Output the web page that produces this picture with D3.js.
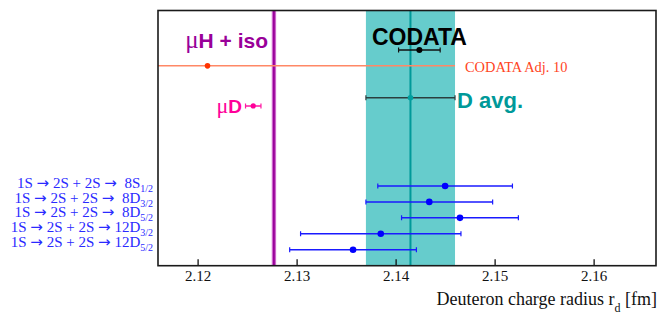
<!DOCTYPE html>
<html>
<head>
<meta charset="utf-8">
<script src="https://cdn.jsdelivr.net/npm/d3@7"></script>
<style>
  body { margin: 0; background: #fff; }
  svg { display: block; }
</style>
</head>
<body>
<svg id="chart" width="660" height="314"></svg>
<script>
(function(){

	// deuteron radius determinations [fm]
	const lineNames = ["8S", "8D", "8D", "12D", "12D"];
	const lineSubs = ["1/2", "3/2", "5/2", "3/2", "5/2"];
	const lineValues = [2.1450, 2.1434, 2.1465, 2.1385, 2.1357];
	const lineErrors = [0.0068, 0.0064, 0.0059, 0.0081, 0.0064];
	const lineRows = [11, 12, 13, 14, 15];

	const codata = [2.1424, 0.0021];
	const codataAdj = [2.1210, 0.0250];
	const dAvg = [2.1415, 0.0045];
	const muHiso = [2.12771, 0.00022];
	const muD = [2.12562, 0.00078];

	const majorTicks = [2.12, 2.13, 2.14, 2.15, 2.16];
	const minorTicks = d3.range(2.116, 2.1665, 0.002);

	const svg = d3.select("#chart");
	const left = 158, right = 656, top = 10.5, bottom = 265.7;

	const x = d3.scaleLinear().domain([2.116, 2.1663]).range([left, right]);
	const y = d3.scaleLinear().domain([0, 16]).range([top, bottom]);

	svg.append("clipPath").attr("id", "plotClip")
		.append("rect")
		.attr("x", left).attr("y", top)
		.attr("width", right - left).attr("height", bottom - top);

	const plot = svg.append("g").attr("clip-path", "url(#plotClip)");

	// D average band
	plot.append("rect")
		.attr("x", x(dAvg[0] - dAvg[1]))
		.attr("width", x(dAvg[0] + dAvg[1]) - x(dAvg[0] - dAvg[1]))
		.attr("y", top).attr("height", bottom - top)
		.attr("fill", "#66cccc");
	plot.append("line")
		.attr("x1", x(dAvg[0])).attr("x2", x(dAvg[0]))
		.attr("y1", top).attr("y2", bottom)
		.attr("stroke", "#009999").attr("stroke-width", 2);

	// muH + iso band
	plot.append("rect")
		.attr("x", x(muHiso[0] - muHiso[1]))
		.attr("width", x(muHiso[0] + muHiso[1]) - x(muHiso[0] - muHiso[1]))
		.attr("y", top).attr("height", bottom - top)
		.attr("fill", "#cc66cc");
	plot.append("line")
		.attr("x1", x(muHiso[0])).attr("x2", x(muHiso[0]))
		.attr("y1", top).attr("y2", bottom)
		.attr("stroke", "#990099").attr("stroke-width", 1.8);

	function errorBar(g, val, err, row, lineColor, dotColor, r, caps) {
		const yy = y(row);
		g.append("line")
			.attr("x1", x(val - err)).attr("x2", x(val + err))
			.attr("y1", yy).attr("y2", yy)
			.attr("stroke", lineColor).attr("stroke-width", 1.5);
		if (caps) {
			[val - err, val + err].forEach(function(v) {
				g.append("line")
					.attr("x1", x(v)).attr("x2", x(v))
					.attr("y1", yy - 2.5).attr("y2", yy + 2.5)
					.attr("stroke", lineColor).attr("stroke-width", 1.2);
			});
		}
		g.append("circle")
			.attr("cx", x(val)).attr("cy", yy).attr("r", r)
			.attr("fill", dotColor);
	}

	errorBar(plot, codataAdj[0], codataAdj[1], 3.47, "#ff8866", "#ff3300", 2.8, false);
	errorBar(plot, codata[0], codata[1], 2.48, "#111", "#000", 3, true);
	errorBar(plot, dAvg[0], dAvg[1], 5.47, "#2a3f3f", "#00a0a0", 2.8, true);
	errorBar(plot, muD[0], muD[1], 5.98, "#ff1aa3", "#ff0099", 2.6, true);

	lineValues.forEach(function(v, i) {
		errorBar(plot, v, lineErrors[i], lineRows[i], "#1a1aff", "#0000ff", 3.3, true);
	});

	// axis ticks (inside)
	const ax = svg.append("g").attr("transform", "translate(0," + bottom + ")");
	ax.call(d3.axisBottom(x).tickValues(minorTicks).tickSize(-3).tickFormat(""));
	ax.call(d3.axisBottom(x).tickValues(majorTicks).tickSize(-6.5).tickFormat(d3.format(".2f")));
	ax.selectAll(".domain").remove();
	ax.selectAll("line").attr("stroke", "#111").attr("stroke-width", 1.3);
	ax.selectAll("text")
		.attr("y", 15.8).attr("dy", 0)
		.attr("fill", "#111")
		.style("font-family", "'Liberation Serif', 'Times New Roman', serif")
		.style("font-size", "15px");

	// frame
	svg.append("rect")
		.attr("x", left).attr("y", top)
		.attr("width", right - left).attr("height", bottom - top)
		.attr("fill", "none").attr("stroke", "#1a1a1a").attr("stroke-width", 1.6);

	const sans = "'Liberation Sans', Arial, sans-serif";
	const serif = "'Liberation Serif', 'Times New Roman', serif";

	// labels
	svg.append("text").attr("x", x(codata[0])).attr("y", 45)
		.attr("text-anchor", "middle")
		.style("font-family", sans).style("font-weight", "bold").style("font-size", "23px")
		.attr("fill", "#000").text("CODATA");

	svg.append("text").attr("x", 457).attr("y", 108)
		.style("font-family", sans).style("font-weight", "bold").style("font-size", "22px")
		.attr("fill", "#009999").text("D avg.");

	svg.append("text").attr("x", 465).attr("y", 71.7)
		.style("font-family", serif).style("font-size", "14.4px")
		.attr("fill", "#ff4422").text("CODATA Adj. 10");

	const muHText = svg.append("text").attr("x", 268).attr("y", 48.3)
		.attr("text-anchor", "end")
		.style("font-size", "21px").attr("fill", "#990099");
	muHText.append("tspan").style("font-family", serif).style("font-size", "25px").text("μ");
	muHText.append("tspan").style("font-family", sans).style("font-weight", "bold").text("H + iso");

	const muDText = svg.append("text").attr("x", 242).attr("y", 112.7)
		.attr("text-anchor", "end")
		.style("font-size", "19px").attr("fill", "#ff0099");
	muDText.append("tspan").style("font-family", serif).style("font-size", "22px").text("μ");
	muDText.append("tspan").style("font-family", sans).style("font-weight", "bold").text("D");

	// transition labels
	const labelBase = [188, 202.5, 217, 232, 247];
	const arrowFont = "'DejaVu Sans', sans-serif";
	const sp = "\u00a0";
	lineNames.forEach(function(n, i) {
		const t = svg.append("text").attr("x", 153).attr("y", labelBase[i])
			.attr("text-anchor", "end")
			.style("font-family", serif).style("font-size", "15px")
			.attr("fill", "#2a2aff");
		t.append("tspan").text("1S" + sp);
		t.append("tspan").style("font-family", arrowFont).style("font-size", "15px").text("\u2192");
		t.append("tspan").text(sp + "2S + 2S" + sp);
		t.append("tspan").style("font-family", arrowFont).style("font-size", "15px").text("\u2192");
		t.append("tspan").text((n.length < 3 ? sp + sp : sp) + n);
		t.append("tspan").attr("dy", 4).style("font-size", "10px").text(lineSubs[i]);
	});

	// axis title
	const title = svg.append("text").attr("x", 657).attr("y", 305)
		.attr("text-anchor", "end")
		.style("font-family", serif).style("font-size", "18px").attr("fill", "#111");
	title.append("tspan").text("Deuteron charge radius r");
	title.append("tspan").attr("dy", 7).style("font-size", "12px").text("d");
	title.append("tspan").attr("dy", -7).text(" [fm]");

}());
</script>
</body>
</html>
